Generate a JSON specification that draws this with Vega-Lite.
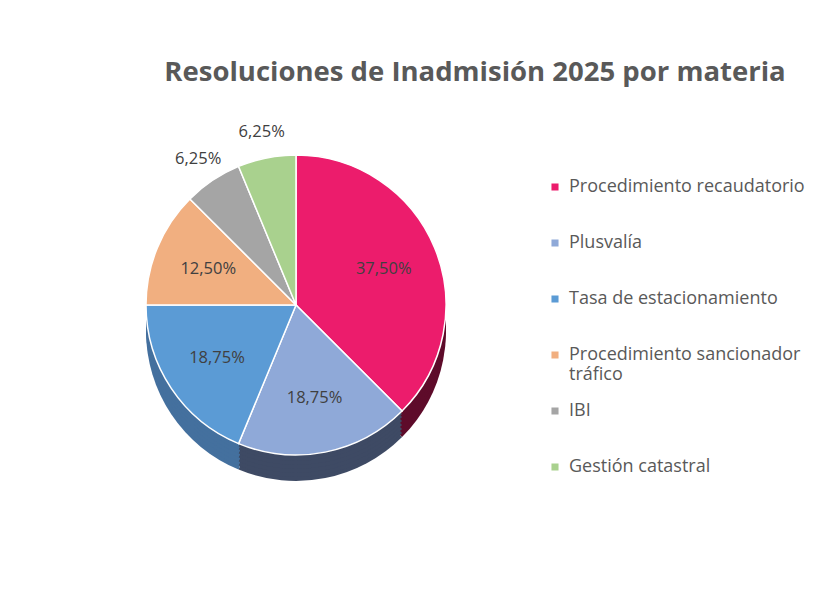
{
  "$schema": "https://vega.github.io/schema/vega-lite/v6.json",
  "width": 300,
  "height": 300,
  "autosize": {"type": "none"},
  "padding": {"left": 146, "top": 155, "right": 367, "bottom": 134},
  "background": "white",
  "title": {
    "text": "Resoluciones de Inadmisión 2025 por materia",
    "font": "Open Sans",
    "fontSize": 27.5,
    "fontWeight": "bold",
    "color": "#595959",
    "anchor": "middle",
    "frame": "group",
    "dx": 179,
    "offset": 38
  },
  "config": {"view": {"stroke": null}},
  "data": {
    "values": [
      {"materia": "Procedimiento recaudatorio", "valor": 37.5, "label": "37,50%", "orden": 1},
      {"materia": "Plusvalía", "valor": 18.75, "label": "18,75%", "orden": 2},
      {"materia": "Tasa de estacionamiento", "valor": 18.75, "label": "18,75%", "orden": 3},
      {"materia": "Procedimiento sancionador tráfico", "valor": 12.5, "label": "12,50%", "orden": 4},
      {"materia": "IBI", "valor": 6.25, "label": "6,25%", "orden": 5},
      {"materia": "Gestión catastral", "valor": 6.25, "label": "6,25%", "orden": 6}
    ]
  },
  "resolve": {"scale": {"color": "independent"}},
  "layer": [
    {
      "mark": {"type": "arc", "outerRadius": 150, "yOffset": 26},
      "encoding": {
        "theta": {"field": "valor", "type": "quantitative", "stack": true},
        "order": {"field": "orden", "type": "quantitative"},
        "color": {"field": "materia", "type": "nominal", "legend": null,
          "scale": {"domain": ["Procedimiento recaudatorio", "Plusvalía", "Tasa de estacionamiento", "Procedimiento sancionador tráfico", "IBI", "Gestión catastral"],
                    "range": ["#5E0B2A", "#3E4A64", "#44709E", "#B47A52", "#7A7A7A", "#7A9A64"]}}
      }
    },
    {
      "mark": {"type": "arc", "outerRadius": 150, "yOffset": 22},
      "encoding": {
        "theta": {"field": "valor", "type": "quantitative", "stack": true},
        "order": {"field": "orden", "type": "quantitative"},
        "color": {"field": "materia", "type": "nominal", "legend": null,
          "scale": {"domain": ["Procedimiento recaudatorio", "Plusvalía", "Tasa de estacionamiento", "Procedimiento sancionador tráfico", "IBI", "Gestión catastral"],
                    "range": ["#5E0B2A", "#3E4A64", "#44709E", "#B47A52", "#7A7A7A", "#7A9A64"]}}
      }
    },
    {
      "mark": {"type": "arc", "outerRadius": 150, "yOffset": 18},
      "encoding": {
        "theta": {"field": "valor", "type": "quantitative", "stack": true},
        "order": {"field": "orden", "type": "quantitative"},
        "color": {"field": "materia", "type": "nominal", "legend": null,
          "scale": {"domain": ["Procedimiento recaudatorio", "Plusvalía", "Tasa de estacionamiento", "Procedimiento sancionador tráfico", "IBI", "Gestión catastral"],
                    "range": ["#5E0B2A", "#3E4A64", "#44709E", "#B47A52", "#7A7A7A", "#7A9A64"]}}
      }
    },
    {
      "mark": {"type": "arc", "outerRadius": 150, "yOffset": 14},
      "encoding": {
        "theta": {"field": "valor", "type": "quantitative", "stack": true},
        "order": {"field": "orden", "type": "quantitative"},
        "color": {"field": "materia", "type": "nominal", "legend": null,
          "scale": {"domain": ["Procedimiento recaudatorio", "Plusvalía", "Tasa de estacionamiento", "Procedimiento sancionador tráfico", "IBI", "Gestión catastral"],
                    "range": ["#5E0B2A", "#3E4A64", "#44709E", "#B47A52", "#7A7A7A", "#7A9A64"]}}
      }
    },
    {
      "mark": {"type": "arc", "outerRadius": 150, "yOffset": 10},
      "encoding": {
        "theta": {"field": "valor", "type": "quantitative", "stack": true},
        "order": {"field": "orden", "type": "quantitative"},
        "color": {"field": "materia", "type": "nominal", "legend": null,
          "scale": {"domain": ["Procedimiento recaudatorio", "Plusvalía", "Tasa de estacionamiento", "Procedimiento sancionador tráfico", "IBI", "Gestión catastral"],
                    "range": ["#5E0B2A", "#3E4A64", "#44709E", "#B47A52", "#7A7A7A", "#7A9A64"]}}
      }
    },
    {
      "mark": {"type": "arc", "outerRadius": 150, "yOffset": 6},
      "encoding": {
        "theta": {"field": "valor", "type": "quantitative", "stack": true},
        "order": {"field": "orden", "type": "quantitative"},
        "color": {"field": "materia", "type": "nominal", "legend": null,
          "scale": {"domain": ["Procedimiento recaudatorio", "Plusvalía", "Tasa de estacionamiento", "Procedimiento sancionador tráfico", "IBI", "Gestión catastral"],
                    "range": ["#5E0B2A", "#3E4A64", "#44709E", "#B47A52", "#7A7A7A", "#7A9A64"]}}
      }
    },
    {
      "mark": {"type": "arc", "outerRadius": 150, "yOffset": 3},
      "encoding": {
        "theta": {"field": "valor", "type": "quantitative", "stack": true},
        "order": {"field": "orden", "type": "quantitative"},
        "color": {"field": "materia", "type": "nominal", "legend": null,
          "scale": {"domain": ["Procedimiento recaudatorio", "Plusvalía", "Tasa de estacionamiento", "Procedimiento sancionador tráfico", "IBI", "Gestión catastral"],
                    "range": ["#5E0B2A", "#3E4A64", "#44709E", "#B47A52", "#7A7A7A", "#7A9A64"]}}
      }
    },
    {
      "mark": {"type": "arc", "outerRadius": 150, "stroke": "white", "strokeWidth": 1.5},
      "encoding": {
        "theta": {"field": "valor", "type": "quantitative", "stack": true},
        "order": {"field": "orden", "type": "quantitative"},
        "color": {"field": "materia", "type": "nominal",
          "scale": {"domain": ["Procedimiento recaudatorio", "Plusvalía", "Tasa de estacionamiento", "Procedimiento sancionador tráfico", "IBI", "Gestión catastral"],
                    "range": ["#EC1C6C", "#8FA9D8", "#5B9BD5", "#F1AF80", "#A5A5A5", "#A9D18E"]},
          "legend": {
            "title": null,
            "orient": "none",
            "legendX": 400,
            "legendY": 22,
            "symbolType": "square",
            "symbolSize": 50,
            "symbolStrokeWidth": 0,
            "labelFont": "Open Sans",
            "labelFontSize": 18,
            "labelColor": "#595959",
            "labelLimit": 300,
            "labelOffset": 5,
            "labelBaseline": "middle",
            "clipHeight": 20,
            "gridAlign": "all",
            "rowPadding": 17,
            "labelExpr": "datum.label == 'Procedimiento sancionador tráfico' ? ['Procedimiento sancionador', 'tráfico'] : datum.label"
          }
        }
      }
    },
    {
      "mark": {"type": "text", "radius": 95, "font": "Open Sans", "fontSize": 16.5, "fill": "#404040"},
      "encoding": {
        "theta": {"field": "valor", "type": "quantitative", "stack": true},
        "order": {"field": "orden", "type": "quantitative"},
        "detail": {"field": "materia", "type": "nominal"},
        "text": {"condition": {"test": "datum.valor >= 10", "field": "label"}, "value": ""}
      }
    },
    {
      "mark": {"type": "text", "radius": 176, "font": "Open Sans", "fontSize": 16.5, "fill": "#404040"},
      "encoding": {
        "theta": {"field": "valor", "type": "quantitative", "stack": true},
        "order": {"field": "orden", "type": "quantitative"},
        "detail": {"field": "materia", "type": "nominal"},
        "text": {"condition": {"test": "datum.valor < 10", "field": "label"}, "value": ""}
      }
    }
  ]
}
